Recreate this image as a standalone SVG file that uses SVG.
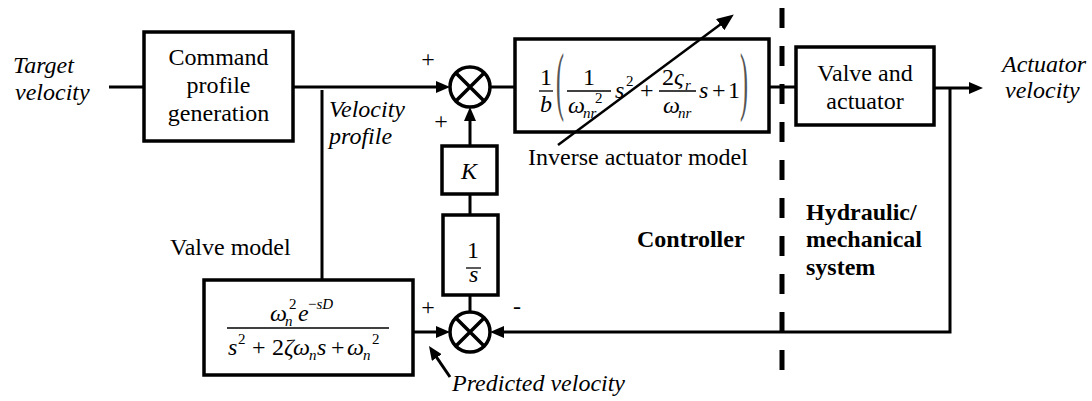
<svg xmlns="http://www.w3.org/2000/svg" width="1092" height="401" viewBox="0 0 1092 401">
<style>
.box{fill:#fff;stroke:#000;stroke-width:3.5}
.ln{fill:none;stroke:#000;stroke-width:3}
.fb{fill:none;stroke:#000;stroke-width:1.3}
.t{font-family:'Liberation Serif','Times New Roman',serif;font-size:24px;fill:#000}
.i{font-style:italic}
.b{font-weight:bold}
.sm{font-size:15px}
.par{font-family:'Liberation Serif','Times New Roman',serif;font-size:24px;fill:#555}
.sum{fill:#fff;stroke:#000;stroke-width:3.5}
.dash{stroke:#000;stroke-width:5;stroke-dasharray:20 18;fill:none}
</style>
<defs>
<marker id="ah" markerUnits="userSpaceOnUse" markerWidth="14" markerHeight="12" refX="4" refY="6" orient="auto"><path d="M0,0 L14,6 L0,12 z" fill="#000"/></marker>
<marker id="ah2" markerUnits="userSpaceOnUse" markerWidth="17" markerHeight="14" refX="6" refY="7" orient="auto"><path d="M0,0 L17,7 L0,14 z" fill="#000"/></marker>
</defs>
<rect x="0" y="0" width="1092" height="401" fill="#fff"/>

<g id="divider"><line class="dash" x1="782" y1="8" x2="782" y2="372"/></g>

<g id="connectors">
<path class="ln" d="M109,87 H144"/>
<path class="ln" d="M293,87 H440" marker-end="url(#ah)"/>
<path class="ln" d="M490,87 H515"/>
<path class="ln" d="M769,87 H796"/>
<path class="ln" d="M934,88 H973" marker-end="url(#ah)"/>
<path class="ln" d="M950,88 V332 H500" marker-end="url(#ah)"/>
<path class="ln" d="M322,90 V280"/>
<path class="ln" d="M413,332 H440" marker-end="url(#ah)"/>
<path class="ln" d="M470,312 V295"/>
<path class="ln" d="M470,215 V194"/>
<path class="ln" d="M470,146 V117" marker-end="url(#ah)"/>
<path class="ln" d="M450,377 L434.6,354.3" marker-end="url(#ah)"/>
</g>

<g id="target-label">
<text class="t i" x="13" y="73">Target</text>
<text class="t i" x="15" y="100">velocity</text>
</g>

<g id="command">
<rect class="box" x="144" y="32" width="149" height="109"/>
<text class="t" x="218.5" y="65" text-anchor="middle">Command</text>
<text class="t" x="218.5" y="93" text-anchor="middle">profile</text>
<text class="t" x="218.5" y="121" text-anchor="middle">generation</text>
</g>

<g id="velocity-profile-label">
<text class="t i" x="329" y="117">Velocity</text>
<text class="t i" x="329" y="144">profile</text>
</g>

<g id="sum1">
<circle class="sum" cx="470" cy="87" r="20"/>
<path class="ln" d="M455.9,72.9 L484.1,101.1 M484.1,72.9 L455.9,101.1" style="stroke-width:3.5"/>
<text class="t" x="428" y="67" text-anchor="middle">+</text>
<text class="t" x="441" y="129" text-anchor="middle">+</text>
</g>

<g id="inverse-model">
<rect class="box" x="515" y="39" width="254" height="93"/>
<text class="t" x="540" y="85">1</text>
<line class="fb" x1="539" y1="91" x2="553" y2="91"/>
<text class="t i" x="540" y="112">b</text>
<text class="par" transform="translate(556,86) scale(1,3.2)" x="0" y="6.1">(</text>
<text class="t" x="583" y="85">1</text>
<line class="fb" x1="567" y1="91" x2="611" y2="91"/>
<text class="t i" x="568" y="113">ω</text>
<text class="t i sm" x="583" y="118">nr</text>
<text class="t sm" x="595" y="103">2</text>
<text class="t i" x="615" y="98">s</text>
<text class="t sm" x="626" y="86">2</text>
<text class="t" x="640" y="98">+</text>
<text class="t" x="662" y="85">2</text>
<text class="t i" x="674" y="85">ς</text>
<text class="t i sm" x="685" y="90">r</text>
<line class="fb" x1="659" y1="91" x2="696" y2="91"/>
<text class="t i" x="663" y="113">ω</text>
<text class="t i sm" x="678" y="118">nr</text>
<text class="t i" x="699" y="98">s</text>
<text class="t" x="712" y="98">+</text>
<text class="t" x="728" y="98">1</text>
<text class="par" transform="translate(740,86) scale(1,3.2)" x="0" y="6.1">)</text>
<path class="ln" d="M558,145 L725,21" style="stroke-width:2.5" marker-end="url(#ah2)"/>
<text class="t" x="528" y="165">Inverse actuator model</text>
</g>

<g id="valve-actuator">
<rect class="box" x="796" y="47" width="138" height="78"/>
<text class="t" x="865" y="81" text-anchor="middle">Valve and</text>
<text class="t" x="865" y="109" text-anchor="middle">actuator</text>
</g>

<g id="actuator-label">
<text class="t i" x="1002" y="72">Actuator</text>
<text class="t i" x="1005" y="98">velocity</text>
</g>

<g id="k-block">
<rect class="box" x="442" y="146" width="55" height="48"/>
<text class="t i" x="469" y="179" text-anchor="middle">K</text>
</g>

<g id="integrator">
<rect class="box" x="443" y="215" width="55" height="80"/>
<text class="t" x="467" y="258">1</text>
<line class="fb" x1="466" y1="268" x2="481" y2="268"/>
<text class="t i" x="469" y="282">s</text>
</g>

<g id="sum2">
<circle class="sum" cx="470" cy="332" r="20"/>
<path class="ln" d="M455.9,317.9 L484.1,346.1 M484.1,317.9 L455.9,346.1" style="stroke-width:3.5"/>
<text class="t" x="428" y="315" text-anchor="middle">+</text>
<text class="t" x="517" y="314" text-anchor="middle">-</text>
</g>

<g id="valve-model">
<text class="t" x="170" y="255">Valve model</text>
<rect class="box" x="204" y="280" width="209" height="95"/>
<text class="t i" x="270" y="321">ω</text>
<text class="t i sm" x="285" y="326">n</text>
<text class="t sm" x="289" y="309">2</text>
<text class="t i" x="298" y="321">e</text>
<text class="t sm" x="308" y="309">−<tspan class="i">sD</tspan></text>
<line class="fb" x1="227" y1="328" x2="389" y2="328"/>
<text class="t i" x="228" y="355">s</text>
<text class="t sm" x="238" y="344">2</text>
<text class="t" x="252" y="355">+</text>
<text class="t" x="272" y="355">2</text>
<text class="t i" x="284" y="355">ζ</text>
<text class="t i" x="293" y="355">ω</text>
<text class="t i sm" x="309" y="360">n</text>
<text class="t i" x="317" y="355">s</text>
<text class="t" x="331" y="355">+</text>
<text class="t i" x="347" y="355">ω</text>
<text class="t i sm" x="363" y="360">n</text>
<text class="t sm" x="372" y="344">2</text>
</g>

<g id="predicted-label">
<text class="t i" x="452" y="391">Predicted velocity</text>
</g>

<g id="region-labels">
<text class="t b" x="637" y="247">Controller</text>
<text class="t b" x="806" y="220">Hydraulic/</text>
<text class="t b" x="806" y="247">mechanical</text>
<text class="t b" x="806" y="275">system</text>
</g>
</svg>
